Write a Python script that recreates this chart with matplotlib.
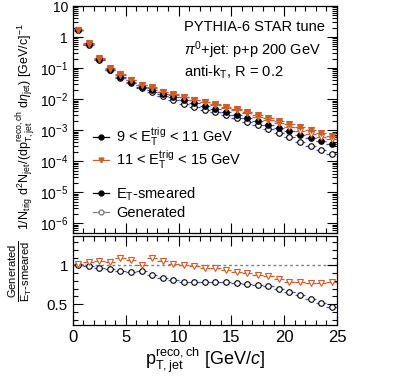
import numpy as np
import matplotlib
matplotlib.use('Agg')
import matplotlib.pyplot as plt
from matplotlib.lines import Line2D
from matplotlib.ticker import MultipleLocator, LogLocator, FixedLocator, FuncFormatter, NullFormatter

plt.rcParams['font.family'] = ['Liberation Sans', 'DejaVu Sans']
plt.rcParams['mathtext.fontset'] = 'custom'
plt.rcParams['mathtext.rm'] = 'Liberation Sans'
plt.rcParams['mathtext.it'] = 'Liberation Sans:italic'
plt.rcParams['mathtext.bf'] = 'Liberation Sans:bold'

# bin centres in p_T,jet (GeV/c)
pt = np.arange(0.5, 25, 1.0)

# E_T-smeared spectra
smeared_9_11 = [1.65, 0.58, 0.19, 0.088, 0.052, 0.036, 0.024, 0.019, 0.0145, 0.0114,
                0.0091, 0.0073, 0.0058, 0.0048, 0.0039, 0.0031, 0.0024, 0.00195, 0.00145,
                0.00113, 0.00091, 0.00069, 0.00055, 0.00045, 0.00036]
smeared_11_15 = [1.7, 0.6, 0.2, 0.095, 0.058, 0.040, 0.028, 0.023, 0.0165, 0.0138,
                 0.0113, 0.0093, 0.0082, 0.0069, 0.0056, 0.0048, 0.0039, 0.0031, 0.0024,
                 0.0020, 0.00156, 0.00122, 0.0010, 0.0008, 0.00066]

# Generated / E_T-smeared
ratio_9_11 = [1.00, 0.99, 0.96, 0.95, 0.93, 0.91, 0.93, 0.87, 0.84, 0.81, 0.78, 0.78, 0.78,
              0.78, 0.78, 0.77, 0.76, 0.75, 0.73, 0.70, 0.66, 0.62, 0.56, 0.51, 0.46]
ratio_11_15 = [1.02, 1.04, 1.05, 1.04, 1.09, 1.07, 1.00, 1.09, 1.06, 1.02, 1.01, 0.99, 0.97,
               0.96, 0.94, 0.92, 0.90, 0.88, 0.86, 0.83, 0.79, 0.78, 0.77, 0.77, 0.78]

y_major = [1e-6, 1e-5, 1e-4, 1e-3, 1e-2, 1e-1, 1, 10]
ratio_major = [0.5, 1.0]

gen_9_11 = np.array(smeared_9_11) * np.array(ratio_9_11)
gen_11_15 = np.array(smeared_11_15) * np.array(ratio_11_15)

blue = '#3a4fc0'
lblue = '#aab3ea'
orange = '#c9602c'
lorange = '#f0b89a'

fig = plt.figure(figsize=(4.07, 3.76), dpi=100)
ax = fig.add_axes([0.179, 0.380, 0.649, 0.604])
ax2 = fig.add_axes([0.179, 0.1356, 0.649, 0.237])


def boxes(a, x, y, col, frac):
    y = np.asarray(y)
    for xi, yi in zip(x, y):
        a.fill_between([xi - 0.3, xi + 0.3], yi * (1 - frac), yi * (1 + frac),
                       color=col, lw=0, alpha=0.6, zorder=1)


def draw(a, x, y, col, lcol, marker, mfc, mec, ms, frac):
    boxes(a, x, y, lcol, frac)
    a.errorbar(x, y, xerr=0.5, fmt='none', ecolor=col, elinewidth=0.9, zorder=2)
    a.plot(x, y, ls='none', marker=marker, mfc=mfc, mec=mec, ms=ms, mew=0.8, zorder=3)


draw(ax, pt, gen_9_11, blue, lblue, 'o', 'white', 'black', 4.0, 0.08)
draw(ax, pt, smeared_9_11, blue, lblue, 'o', 'black', 'black', 4.0, 0.08)
draw(ax, pt, gen_11_15, orange, lorange, 'v', 'white', orange, 4.4, 0.08)
draw(ax, pt, smeared_11_15, orange, lorange, 'v', orange, orange, 4.4, 0.08)

ax.set_yscale('log')
ax.set_xlim(0, 25)
ax.set_ylim(4.8e-7, 10)


def logfmt(v, pos):
    if abs(v - 10) < 1e-9:
        return '10'
    if abs(v - 1) < 1e-9:
        return '1'
    return '$10^{%d}$' % int(round(np.log10(v)))


ax.yaxis.set_major_locator(FixedLocator(y_major))
ax.yaxis.set_minor_locator(LogLocator(base=10, subs=np.arange(2, 10), numticks=20))
ax.yaxis.set_major_formatter(FuncFormatter(logfmt))
ax.yaxis.set_minor_formatter(NullFormatter())
ax.xaxis.set_major_locator(MultipleLocator(5))
ax.xaxis.set_minor_locator(MultipleLocator(1))
ax.tick_params(labelbottom=False)

for a in (ax, ax2):
    a.tick_params(which='both', direction='in', top=True, right=True, labelsize=10, width=0.8)
    a.tick_params(which='major', length=7)
    a.tick_params(which='minor', length=3.5)
    for s in a.spines.values():
        s.set_linewidth(0.9)

ax.text(0.42, 0.907, 'PYTHIA-6 STAR tune', transform=ax.transAxes, fontsize=10.5, va='center')
ax.text(0.42, 0.806, r'$\pi^{0}$+jet: p+p 200 GeV', transform=ax.transAxes, fontsize=10.5, va='center')
ax.text(0.42, 0.709, r'anti-k$_{\rm T}$, R = 0.2', transform=ax.transAxes, fontsize=10.5, va='center')

h1 = [Line2D([], [], color='black', marker='o', ms=3.5, lw=0.9),
      Line2D([], [], color=orange, marker='v', ms=3.5, lw=0.9)]
leg1 = ax.legend(h1, [r'9 < E$_{\rm T}^{\rm trig}$ < 11 GeV', r'11 < E$_{\rm T}^{\rm trig}$ < 15 GeV'],
                 loc='center left', bbox_to_anchor=(0.076, 0.372), frameon=False, fontsize=10.5,
                 handlelength=1.1, handletextpad=0.5, labelspacing=0.0, borderpad=0,
                 borderaxespad=0)
ax.add_artist(leg1)
h2 = [Line2D([], [], color='black', marker='o', ms=3.5, lw=0.9),
      Line2D([], [], color='grey', marker='o', mfc='white', mec='grey', ms=3.5, lw=0.9)]
ax.legend(h2, [r'E$_{\rm T}$-smeared', 'Generated'], loc='center left',
          bbox_to_anchor=(0.076, 0.134), frameon=False, fontsize=10.5,
          handlelength=1.1, handletextpad=0.5, labelspacing=0.2, borderpad=0,
          borderaxespad=0)

# ratio panel
ax2.axhline(1, color='grey', ls=(0, (2, 2)), lw=1, zorder=0)
draw(ax2, pt, ratio_9_11, blue, lblue, 'o', 'white', 'black', 4.0, 0.01)
draw(ax2, pt, ratio_11_15, orange, lorange, 'v', 'white', orange, 4.4, 0.01)
ax2.set_xlim(0, 25)
ax2.set_ylim(0.23, 1.38)
ax2.xaxis.set_major_locator(MultipleLocator(5))
ax2.xaxis.set_minor_locator(MultipleLocator(1))
ax2.yaxis.set_major_locator(FixedLocator(ratio_major))
ax2.yaxis.set_minor_locator(MultipleLocator(0.1))
ax2.yaxis.set_major_formatter(FuncFormatter(lambda v, p: '%g' % v))
ax2.tick_params(axis='x', labelsize=12)
ax2.tick_params(axis='y', labelsize=11)
ax2.set_xlabel(r'p$^{\rm reco,ch}_{\rm T,jet}$ [GeV/$c$]', fontsize=13, labelpad=0)

fig.text(0.062, 0.664,
         r'1/N$_{\rm trig}$ d$^{2}$N$_{\rm jet}$/(dp$^{\rm reco,ch}_{\rm T,jet}$ d$\eta_{\rm jet}$) [GeV/c]$^{-1}$',
         rotation=90, ha='center', va='center', fontsize=9)
fig.text(0.05, 0.279, r'$\frac{\mathrm{Generated}}{\mathrm{E}_{\mathrm{T}}\text{-smeared}}$',
         rotation=90, ha='center', va='center', fontsize=11.5)

fig.savefig('out.png', dpi=100)
